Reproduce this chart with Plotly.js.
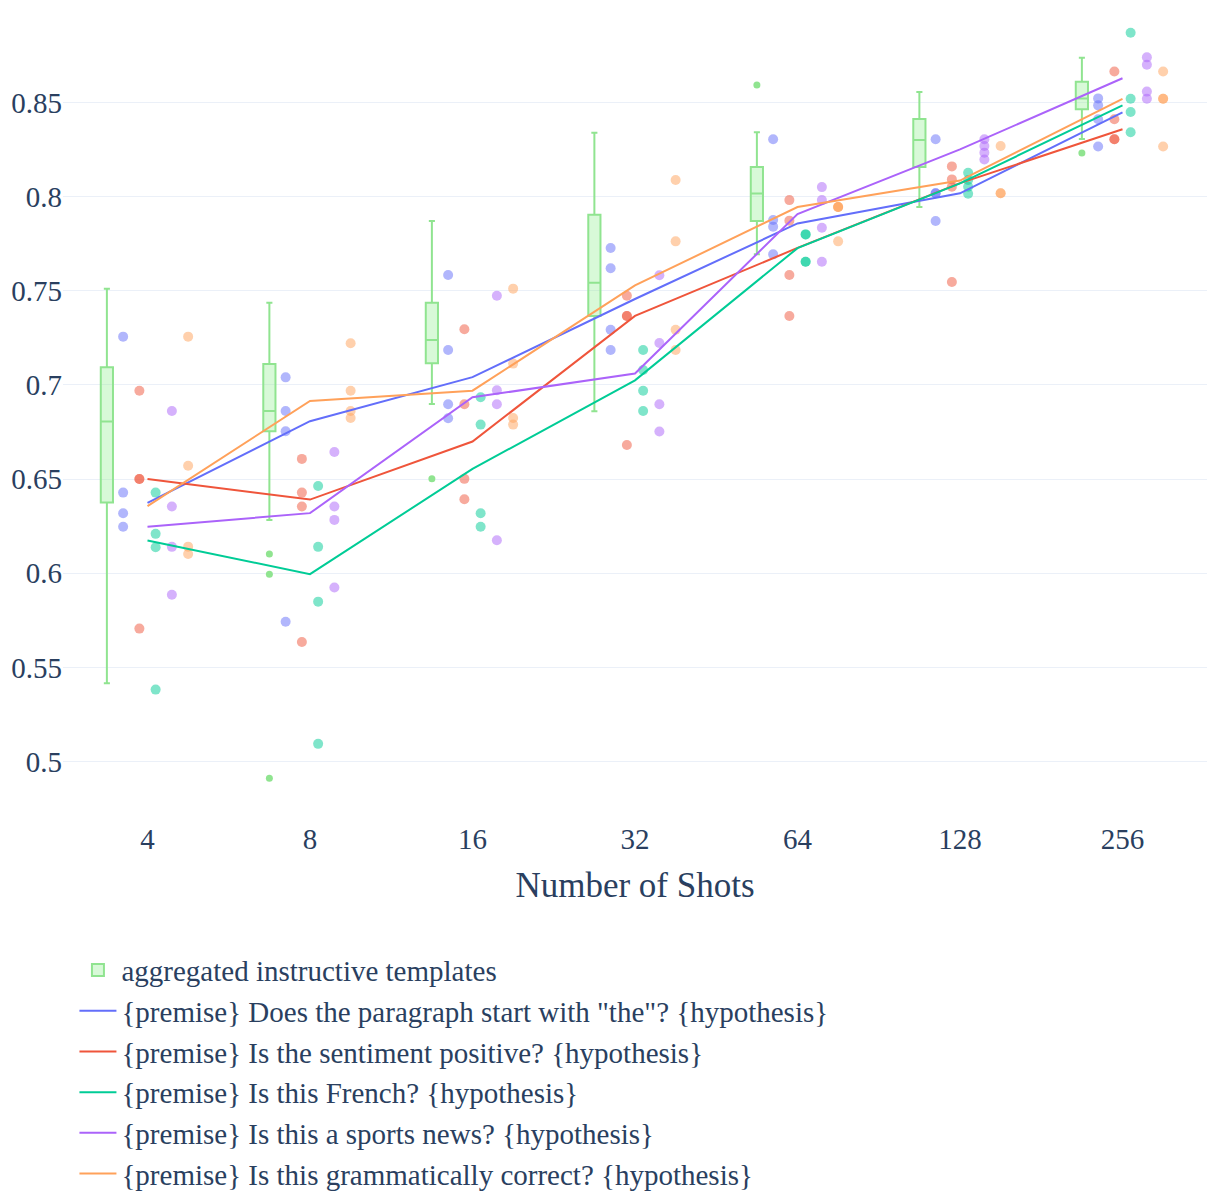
<!DOCTYPE html>
<html>
<head>
<meta charset="utf-8">
<script src="https://cdn.plot.ly/plotly-3.0.1.min.js"></script>
<style>
html,body{margin:0;padding:0;background:#fff;}
#chart{width:1209px;height:1195px;}
</style>
</head>
<body>
<div id="chart"></div>
<script>
// Categories (number of shots)
const shots = ['4', '8', '16', '32', '64', '128', '256'];

// Aggregated instructive templates: box statistics per shot count
const aggQ1 = [0.6375, 0.6754, 0.7115, 0.7366, 0.7870, 0.8157, 0.8464];
const aggMedian = [0.6805, 0.6861, 0.7238, 0.7542, 0.8016, 0.8300, 0.8521];
const aggQ3 = [0.7093, 0.7111, 0.7436, 0.7903, 0.8157, 0.8411, 0.8609];
const aggLowerFence = [0.5416, 0.6283, 0.6899, 0.6860, 0.7693, 0.7944, 0.8305];
const aggUpperFence = [0.7510, 0.7436, 0.7870, 0.8339, 0.8341, 0.8555, 0.8737];
const aggOutliers = [[], [0.6102, 0.5995, 0.4912], [0.6501], [], [0.8592], [], [0.8231]];

// Template names
const names = [
  '{premise} Does the paragraph start with "the"? {hypothesis}',
  '{premise} Is the sentiment positive? {hypothesis}',
  '{premise} Is this French? {hypothesis}',
  '{premise} Is this a sports news? {hypothesis}',
  '{premise} Is this grammatically correct? {hypothesis}'
];
const colors = ['#636EFA', '#EF553B', '#00CC96', '#AB63FA', '#FFA15A'];

// Individual runs per shot count (one inner list per category)
const pointsThe = [
  [0.7256, 0.6428, 0.6318, 0.6247],
  [0.7040, 0.6861, 0.6754, 0.5742],
  [0.7583, 0.7185, 0.6897, 0.6823],
  [0.7727, 0.7619, 0.7293, 0.7185],
  [0.8304, 0.7875, 0.7840, 0.7693],
  [0.8304, 0.8017, 0.8017, 0.7870],
  [0.8521, 0.8484, 0.8410, 0.8266]
];
const pointsSentiment = [
  [0.6969, 0.6500, 0.6500, 0.5706],
  [0.6607, 0.6428, 0.6354, 0.5635],
  [0.7295, 0.6897, 0.6501, 0.6393],
  [0.7473, 0.7366, 0.7366, 0.6681],
  [0.7981, 0.7872, 0.7583, 0.7366],
  [0.8160, 0.8091, 0.8052, 0.7546],
  [0.8664, 0.8410, 0.8304, 0.8304]
];
const pointsFrench = [
  [0.6428, 0.6209, 0.6138, 0.5382],
  [0.6463, 0.6140, 0.5849, 0.5094],
  [0.6934, 0.6789, 0.6318, 0.6247],
  [0.7185, 0.7079, 0.6969, 0.6861],
  [0.7799, 0.7799, 0.7654, 0.7654],
  [0.8126, 0.8088, 0.8052, 0.8015],
  [0.8870, 0.8519, 0.8449, 0.8341]
];
const pointsSports = [
  [0.6861, 0.6354, 0.6140, 0.5886],
  [0.6644, 0.6354, 0.6283, 0.5924],
  [0.7473, 0.6971, 0.6897, 0.6175],
  [0.7582, 0.7222, 0.6897, 0.6752],
  [0.8050, 0.7981, 0.7834, 0.7654],
  [0.8304, 0.8268, 0.8233, 0.8197],
  [0.8739, 0.8700, 0.8557, 0.8519]
];
const pointsGrammar = [
  [0.7256, 0.6571, 0.6141, 0.6102],
  [0.7221, 0.6969, 0.6861, 0.6824],
  [0.7511, 0.7113, 0.6824, 0.6789],
  [0.8088, 0.7762, 0.7293, 0.7185],
  [0.7944, 0.7944, 0.7944, 0.7762],
  [0.8268, 0.8017, 0.8017],
  [0.8664, 0.8519, 0.8519, 0.8266]
];

// Median lines per template
const lineThe = [0.6373, 0.6807, 0.7041, 0.7456, 0.7857, 0.8017, 0.8447];
const lineSentiment = [0.6500, 0.6391, 0.6699, 0.7366, 0.7727, 0.8071, 0.8357];
const lineFrench = [0.6174, 0.5995, 0.6554, 0.7024, 0.7726, 0.8070, 0.8484];
const lineSports = [0.6247, 0.6319, 0.6934, 0.7060, 0.7907, 0.8250, 0.8628];
const lineGrammar = [0.6356, 0.6915, 0.6969, 0.7528, 0.7944, 0.8085, 0.8519];

// Y tick labels
const yTickVals = [0.5, 0.55, 0.6, 0.65, 0.7, 0.75, 0.8, 0.85, 0.9];
const yTickText = ['0.5', '0.55', '0.6', '0.65', '0.7', '0.75', '0.8', '0.85', ''];

const allPoints = [pointsThe, pointsSentiment, pointsFrench, pointsSports, pointsGrammar];
const allLines = [lineThe, lineSentiment, lineFrench, lineSports, lineGrammar];

const boxGreen = 'rgb(144,228,144)';
const traces = [];
traces.push({
  type: 'box',
  name: 'aggregated instructive templates',
  x: shots,
  q1: aggQ1, median: aggMedian, q3: aggQ3,
  lowerfence: aggLowerFence, upperfence: aggUpperFence,
  boxpoints: false,
  whiskerwidth: 0.5,
  offsetgroup: 'agg',
  line: {color: boxGreen, width: 2},
  fillcolor: 'rgba(144,238,144,0.35)',
  legendrank: 1
});

// outliers of the aggregated box, drawn in the same slot
(function () {
  const xs = [], ys = [];
  aggOutliers.forEach((arr, c) => arr.forEach(v => { xs.push(shots[c]); ys.push(v); }));
  traces.push({
    type: 'box', name: 'aggregated instructive templates', x: xs, y: ys,
    boxpoints: 'all', jitter: 0, pointpos: 0, hoveron: 'points',
    offsetgroup: 'agg',
    fillcolor: 'rgba(255,255,255,0)',
    line: {color: 'rgba(255,255,255,0)', width: 0},
    marker: {color: boxGreen, size: 7},
    showlegend: false
  });
})();

allPoints.forEach((pts, s) => {
  const xs = [], ys = [];
  pts.forEach((arr, c) => arr.forEach(v => { xs.push(shots[c]); ys.push(v); }));
  traces.push({
    type: 'box', name: names[s], x: xs, y: ys,
    boxpoints: 'all', jitter: 0, pointpos: 0, hoveron: 'points',
    offsetgroup: 's' + s,
    fillcolor: 'rgba(255,255,255,0)',
    line: {color: 'rgba(255,255,255,0)', width: 0},
    marker: {color: colors[s], opacity: 0.5, size: 10},
    showlegend: false
  });
});

allLines.forEach((vals, s) => {
  traces.push({
    type: 'scatter', mode: 'lines', name: names[s],
    x: shots, y: vals,
    line: {color: colors[s], width: 2},
    legendrank: 2 + s
  });
});

const layout = {
  width: 1209, height: 1195,
  margin: {l: 63, r: 2, t: 8, b: 376, autoexpand: false},
  paper_bgcolor: 'white', plot_bgcolor: 'white',
  font: {family: '"Liberation Serif", "Times New Roman", serif', size: 29, color: '#2a3f5f'},
  boxmode: 'group', boxgap: 0.4, boxgroupgap: 0.25,
  showlegend: true,
  xaxis: {
    type: 'category', categoryorder: 'array', categoryarray: shots,
    range: [-0.52, 6.52], showgrid: false, zeroline: false, showline: false, ticks: '',
    tickfont: {size: 29},
    title: {text: 'Number of Shots', font: {size: 35}, standoff: 18}
  },
  yaxis: {
    range: [0.4695, 0.9001], tickmode: 'array', tickvals: yTickVals, ticktext: yTickText,
    gridcolor: '#EBF0F8', gridwidth: 1, zeroline: false, showline: false, ticks: '',
    tickfont: {size: 29}
  },
  legend: {
    x: 0.01, y: -0.155, xanchor: 'left', yanchor: 'top',
    font: {size: 29}, bgcolor: 'rgba(0,0,0,0)', traceorder: 'normal',
    itemwidth: 37
  }
};

Plotly.newPlot('chart', traces, layout, {displayModeBar: false, staticPlot: true});
</script>
</body>
</html>
